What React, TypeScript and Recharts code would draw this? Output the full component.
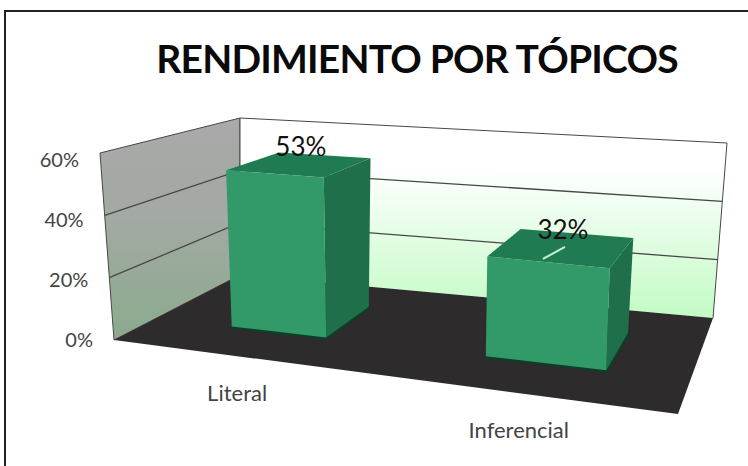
import React from 'react';
import { BarChart, Bar, XAxis, YAxis, LabelList } from 'recharts';

const categories = ['Literal', 'Inferencial'];
const scores = [0.53, 0.32];
const yTicks = [0, 0.2, 0.4, 0.6];

const chartData = categories.map((name, i) => ({ name, score: scores[i] }));

const WIDTH = 748;
const HEIGHT = 466;
// flat plot area, every mark gets projected out of it onto the 3D box
const PLOT = { left: 100, top: 120, width: 600, height: 220 };
const AXIS_SIZE = 30;
const BAR_FRONT = 0.3;
const BAR_BACK = 0.72;
const BAR_SHIFT = 0.022; // bars sit slightly right of the band centres
const BAR_RISE = 0.975; // boxes stand a touch shorter than the wall grid
const FONT = 'Lato, sans-serif';

type Pt = [number, number];

// unit square -> quad, corners in order (0,0) (1,0) (1,1) (0,1)
const homography = (p0: Pt, p1: Pt, p2: Pt, p3: Pt) => {
  const dx1 = p1[0] - p2[0];
  const dx2 = p3[0] - p2[0];
  const sx = p0[0] - p1[0] + p2[0] - p3[0];
  const dy1 = p1[1] - p2[1];
  const dy2 = p3[1] - p2[1];
  const sy = p0[1] - p1[1] + p2[1] - p3[1];
  const den = dx1 * dy2 - dx2 * dy1;
  const g = (sx * dy2 - dx2 * sy) / den;
  const h = (dx1 * sy - sx * dy1) / den;
  const a = p1[0] - p0[0] + g * p1[0];
  const b = p3[0] - p0[0] + h * p3[0];
  const d = p1[1] - p0[1] + g * p1[1];
  const e = p3[1] - p0[1] + h * p3[1];
  return (u: number, w: number): Pt => {
    const q = g * u + h * w + 1;
    return [(a * u + b * w + p0[0]) / q, (d * u + e * w + p0[1]) / q];
  };
};

const floorAt = homography([114, 340], [678, 414], [713, 318], [240, 275]);

// how far "up" goes at each floor corner: front left, front right, back right, back left
const RISE: Pt[] = [[-14, -187], [7, -209], [14, -175], [0, -157]];

// u: across, depth: front to back, v: floor to top of the axis
const project = (u: number, depth: number, v: number): Pt => {
  const a = floorAt(u, depth);
  const weights = [(1 - u) * (1 - depth), u * (1 - depth), u * depth, (1 - u) * depth];
  const riseX = RISE.reduce((sum, r, i) => sum + r[0] * weights[i], 0);
  const riseY = RISE.reduce((sum, r, i) => sum + r[1] * weights[i], 0);
  return [a[0] + riseX * v, a[1] + riseY * v];
};

const toU = (x: number) => (x - PLOT.left) / PLOT.width + BAR_SHIFT;
const toV = (y: number) => (PLOT.top + PLOT.height - y) / PLOT.height;
const pts = (list: Pt[]) => list.map((p) => `${p[0].toFixed(1)},${p[1].toFixed(1)}`).join(' ');

const Walls = () => {
  const leftWall = [project(0, 0, 0), project(0, 0, 1), project(0, 1, 1), project(0, 1, 0)];
  const backWall = [project(0, 1, 0), project(0, 1, 1), project(1, 1, 1), project(1, 1, 0)];
  const floor = [project(0, 0, 0), project(1, 0, 0), project(1, 1, 0), project(0, 1, 0)];
  const lineColor = '#474747';
  return (
    <g>
      <defs>
        <linearGradient id="leftWallFill" x1="0" y1="0" x2="0" y2="1">
          <stop offset="0%" stopColor="#a9a9a9" />
          <stop offset="45%" stopColor="#a3a9a3" />
          <stop offset="100%" stopColor="#8aab8c" />
        </linearGradient>
        <linearGradient id="backWallFill" x1="0" y1="0" x2="0" y2="1">
          <stop offset="0%" stopColor="#ffffff" />
          <stop offset="25%" stopColor="#ffffff" />
          <stop offset="100%" stopColor="#c2fbc4" />
        </linearGradient>
      </defs>
      <polygon points={pts(leftWall)} fill="url(#leftWallFill)" stroke={lineColor} strokeWidth={1} />
      <polygon points={pts(backWall)} fill="url(#backWallFill)" />
      <polyline points={pts([backWall[0], backWall[1], backWall[2], backWall[3]])} fill="none" stroke={lineColor} strokeWidth={1} />
      {yTicks.slice(1, -1).map((t) => {
        const v = t / yTicks[yTicks.length - 1];
        return (
          <polyline
            key={t}
            points={pts([project(0, 0, v), project(0, 1, v), project(1, 1, v)])}
            fill="none"
            stroke={lineColor}
            strokeWidth={1.3}
          />
        );
      })}
      <polygon points={pts(floor)} fill="#2d2b2c" />
    </g>
  );
};

const Box3D = (props: any) => {
  const { x, y, width, height } = props;
  const u0 = toU(x);
  const u1 = toU(x + width);
  const v = toV(y) * BAR_RISE;
  const base = toV(y + height);
  const frontL = project(u0, BAR_FRONT, base);
  const frontR = project(u1, BAR_FRONT, base);
  const backR = project(u1, BAR_BACK, base);
  const topFL = project(u0, BAR_FRONT, v);
  const topFR = project(u1, BAR_FRONT, v);
  const topBR = project(u1, BAR_BACK, v);
  const topBL = project(u0, BAR_BACK, v);
  return (
    <g>
      <polyline points={pts([frontL, frontR, backR])} fill="none" stroke="#0c3f28" strokeWidth={4} />
      <polygon points={pts([frontR, backR, topBR, topFR])} fill="#1f6f4b" />
      <polygon points={pts([topFL, topFR, topBR, topBL])} fill="#217b52" />
      <polygon points={pts([frontL, frontR, topFR, topFL])} fill="#319a68" />
    </g>
  );
};

const BarValueLabel = (props: any) => {
  const { x, y, width, value, index } = props;
  const mid = toU(x + width / 2);
  const p = project(mid, (BAR_FRONT + BAR_BACK) / 2, toV(y) * BAR_RISE);
  return (
    <g>
      {/* Inferencial has a short leader running over the top face */}
      {index === 1 && <line x1={p[0] - 19} y1={p[1] + 12} x2={p[0] + 3} y2={p[1]} stroke="#c4f2d3" strokeWidth={2} />}
      <text x={p[0] + 1} y={p[1] - 8} textAnchor="middle" fontFamily={FONT} fontSize={26} fill="#111">
        {`${Math.round(value * 100)}%`}
      </text>
    </g>
  );
};

const ValueTick = (props: any) => {
  const { y, payload } = props;
  const v = toV(y);
  const p = project(0, 0, v);
  return (
    <text x={p[0] - 21} y={p[1] + 7 + 7 * v} textAnchor="end" fontFamily={FONT} fontSize={20} fill="#444">
      {`${Math.round(payload.value * 100)}%`}
    </text>
  );
};

const CategoryTick = (props: any) => {
  const { x, payload } = props;
  const p = project(toU(x), 0, 0);
  return (
    <text x={p[0] - 3} y={p[1] + 44} textAnchor="middle" fontFamily={FONT} fontSize={22} fill="#444">
      {payload.value}
    </text>
  );
};

export default function App() {
  return (
    <div style={{ position: 'absolute', left: 0, top: 0, width: WIDTH, height: HEIGHT, background: '#fff' }}>
      <BarChart
        width={WIDTH}
        height={HEIGHT}
        data={chartData}
        margin={{
          left: PLOT.left - AXIS_SIZE,
          top: PLOT.top,
          right: WIDTH - PLOT.left - PLOT.width,
          bottom: HEIGHT - PLOT.top - PLOT.height - AXIS_SIZE,
        }}
        barCategoryGap="30%"
      >
        <rect x={5} y={11} width={760} height={480} fill="none" stroke="#222" strokeWidth={2} />
        <text x={417} y={73} textAnchor="middle" fontFamily={FONT} fontWeight={700} fontSize={39} letterSpacing={-0.8} fill="#0a0a0a">
          RENDIMIENTO POR TÓPICOS
        </text>
        <Walls />
        <XAxis dataKey="name" height={AXIS_SIZE} axisLine={false} tickLine={false} interval={0} tick={<CategoryTick />} />
        <YAxis width={AXIS_SIZE} domain={[0, 0.6]} ticks={yTicks} axisLine={false} tickLine={false} interval={0} tick={<ValueTick />} />
        <Bar dataKey="score" shape={<Box3D />} isAnimationActive={false}>
          <LabelList dataKey="score" content={<BarValueLabel />} />
        </Bar>
      </BarChart>
    </div>
  );
}
